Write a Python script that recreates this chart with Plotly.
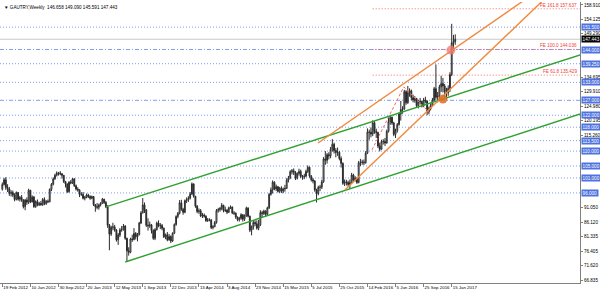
import pandas as pd
import plotly.graph_objects as go

# ---------------- data ----------------
first_open = 97.2
close = [
98.8,100.4,97.8,97.3,95.8,96.1,95.3,93.8,96.1,93.9,94.5,93.6,91.4,93.6,92.9,96.9,93.0,94.6,91.4,93.1,
92.0,92.5,92.0,93.8,92.4,93.2,93.0,97.2,98.9,100.7,101.9,102.7,102.7,102.4,101.9,99.8,99.0,96.4,99.6,99.3,
100.7,98.4,97.3,97.0,95.5,95.5,94.2,94.5,95.3,94.8,94.2,94.8,92.1,91.4,91.2,92.0,92.5,93.9,92.8,91.4,
85.2,82.2,84.5,84.6,83.6,80.3,81.9,83.6,83.7,84.9,80.8,76.6,76.1,80.6,80.4,82.4,81.3,82.0,85.9,89.3,
92.0,90.3,85.2,85.0,85.3,83.4,80.8,83.7,85.9,85.0,85.1,84.2,81.3,82.0,80.3,81.4,79.9,82.5,85.4,88.1,
89.2,92.7,90.5,89.5,93.4,93.7,94.2,95.6,99.0,94.9,91.6,89.8,90.0,88.3,88.6,88.2,86.7,87.0,87.0,84.4,
84.7,86.1,90.1,90.4,90.8,91.9,90.1,90.2,89.5,91.0,91.3,89.3,89.2,87.9,87.0,87.5,88.7,87.2,88.3,90.9,
88.2,83.5,84.6,86.1,85.7,84.2,85.3,89.4,89.1,89.9,88.8,91.0,95.5,97.0,99.6,97.3,98.1,96.5,97.6,96.6,
97.3,97.5,100.3,101.1,103.1,103.4,102.8,100.9,102.5,103.2,101.5,101.4,101.6,103.2,104.6,101.6,100.4,100.0,97.0,95.8,
97.9,97.9,99.7,107.4,106.9,108.8,108.4,110.6,112.3,110.2,109.5,109.6,107.5,105.9,99.2,99.7,99.5,98.8,99.5,102.0,
100.3,100.9,99.5,106.1,106.2,106.3,106.1,109.3,116.4,116.3,115.7,119.5,116.6,116.2,111.7,110.6,113.2,113.2,112.7,116.6,
119.9,121.3,119.4,115.6,116.9,118.9,122.4,123.9,124.1,129.9,126.2,129.5,130.2,127.9,127.1,127.6,125.2,126.5,126.6,125.1,
127.1,126.8,123.1,124.2,125.3,127.1,130.9,128.0,128.5,131.5,132.6,131.8,130.0,129.5,131.0,135.6,146.2,146.658,147.443]
high = [
99.5,101.0,101.3,98.9,98.0,96.9,96.8,95.9,96.5,96.3,95.0,95.3,93.9,94.0,94.5,97.4,97.0,95.2,95.0,93.5,
93.8,93.0,93.3,94.3,94.5,93.6,93.8,97.5,99.3,101.2,102.4,103.2,103.0,103.3,102.6,102.0,100.0,99.2,99.9,100.3,
101.0,100.9,98.8,97.9,97.2,96.2,96.3,95.0,95.8,95.7,95.2,95.1,94.9,92.3,92.6,92.4,92.9,94.3,94.0,93.3,
91.9,85.6,85.0,86.0,85.3,83.9,82.6,84.2,84.9,85.6,85.2,81.0,77.8,81.0,82.0,84.2,82.9,82.6,86.3,89.9,
94.3,92.8,90.6,87.5,86.4,85.6,83.8,84.2,86.4,86.8,85.9,85.6,84.4,82.4,82.9,82.3,81.8,82.8,85.8,88.5,
89.6,93.6,93.7,91.0,93.8,94.5,94.9,96.3,99.5,99.2,95.0,91.9,90.8,90.6,89.3,89.1,88.5,87.6,87.5,87.2,
85.2,86.6,90.6,91.0,91.3,92.6,92.0,91.4,90.6,91.4,91.8,91.4,89.9,89.5,88.1,88.0,89.2,88.9,88.8,91.4,
91.2,88.4,85.1,86.7,86.8,86.8,87.0,90.2,90.0,90.4,90.2,91.4,96.0,97.8,100.2,99.9,98.8,98.3,98.0,98.2,
97.8,98.7,100.9,101.7,103.6,104.0,104.2,103.3,102.9,104.1,103.8,102.0,102.4,103.8,105.2,104.8,102.0,101.0,100.3,97.4,
98.4,98.7,100.4,108.0,110.0,109.4,109.6,111.4,114.0,112.8,111.0,111.2,110.0,108.2,106.2,100.5,100.4,100.1,100.5,102.7,
102.4,101.6,101.2,106.7,107.4,107.1,107.2,110.0,117.6,117.2,117.9,120.3,120.0,117.5,116.5,112.8,113.8,114.0,114.4,117.2,
121.2,121.9,121.6,119.8,117.5,119.4,123.0,126.8,125.0,130.5,130.4,131.8,131.0,130.6,128.9,128.4,127.8,127.2,127.8,126.9,
127.8,128.2,126.9,124.9,125.9,127.8,131.5,139.0,129.8,132.2,135.2,134.5,132.5,131.2,132.0,136.4,152.6,148.9,149.09]
low = [
96.8,98.5,97.0,96.3,95.0,94.8,94.6,93.2,93.5,93.4,93.1,93.0,90.8,90.2,92.0,92.3,92.6,92.8,91.0,91.0,
91.5,91.6,91.7,91.7,91.9,92.0,92.6,92.9,96.6,98.5,100.4,101.5,101.8,101.9,100.8,99.3,97.8,96.0,96.1,98.9,
99.0,98.0,96.8,96.4,94.6,95.0,93.8,93.5,94.2,94.3,93.7,93.9,91.6,89.7,90.5,90.4,91.5,92.3,92.3,90.9,
84.3,76.8,81.6,83.5,83.0,79.7,78.6,81.2,83.0,83.4,80.3,73.2,75.0,75.8,79.6,80.1,80.4,79.8,81.8,85.6,
89.1,89.3,84.6,83.4,84.3,82.4,80.3,80.2,83.4,84.5,83.9,83.5,80.9,80.5,79.8,80.0,79.2,79.6,82.2,85.0,
87.5,88.8,90.0,88.7,89.2,92.6,93.0,93.8,95.4,94.4,91.0,89.2,89.0,87.9,87.6,87.7,86.3,86.3,86.5,83.9,
83.8,84.5,85.7,89.4,89.7,90.2,89.5,89.6,88.9,89.3,90.6,88.9,88.6,87.3,86.5,86.4,87.0,86.4,86.6,88.0,
87.8,82.9,81.8,83.7,84.9,83.7,83.5,84.9,87.9,88.6,88.0,88.5,90.6,95.1,95.8,96.9,96.6,96.1,96.0,96.0,
95.9,96.4,97.3,99.5,100.6,102.2,102.0,100.3,100.5,101.8,101.0,100.4,100.6,101.2,102.7,101.1,99.8,99.2,96.4,92.8,
95.2,96.6,97.3,99.4,105.4,105.8,107.2,107.6,109.8,109.2,107.9,108.4,106.9,104.5,98.7,98.3,98.5,98.0,97.4,99.0,
99.6,99.8,99.0,99.2,105.0,105.4,105.3,105.8,109.0,113.8,114.6,115.0,115.8,114.4,111.0,109.9,110.5,112.2,111.7,112.5,
116.2,118.8,118.8,115.0,114.4,116.2,118.5,120.2,122.5,123.8,125.5,125.8,128.2,127.0,126.3,126.2,124.6,124.3,125.6,124.6,
124.7,126.0,122.0,122.3,123.6,124.9,126.8,127.2,126.3,127.5,129.8,129.6,128.0,127.2,128.5,129.8,135.1,143.6,145.591]
last_bar_date = "2017-01-29"

y_tick_vals = [158.910, 154.125, 149.290, 134.695, 129.910, 124.980, 120.195, 115.260,
               91.050, 86.120, 81.335, 76.405, 71.620, 66.835]
x_tick_dates = ["2012-02-19", "2012-06-10", "2012-09-30", "2013-01-20", "2013-05-12", "2013-09-01",
                "2013-12-22", "2014-04-13", "2014-08-03", "2014-11-23", "2015-03-15", "2015-07-05",
                "2015-10-25", "2016-02-14", "2016-06-05", "2016-09-25", "2017-01-15"]
x_tick_text = ["19 Feb 2012", "10 Jun 2012", "30 Sep 2012", "20 Jan 2013", "12 May 2013", "1 Sep 2013",
               "22 Dec 2013", "13 Apr 2014", "3 Aug 2014", "23 Nov 2014", "15 Mar 2015", "5 Jul 2015",
               "25 Oct 2015", "14 Feb 2016", "5 Jun 2016", "25 Sep 2016", "15 Jan 2017"]

blue_levels = [151.5, 144.0, 139.25, 133.0, 127.0, 122.0, 118.0, 113.5, 110.0, 105.0, 101.0, 96.0]
blue_styles = ["dot", "dashdot", "dot", "dot", "dashdot", "dot", "dot", "dot", "dot", "dot", "dot", "dot"]
fe_ratios = ["161.8", "100.0", "61.8"]
fe_levels = [157.637, 144.036, 135.429]
fe_start = "2016-03-06"
current_price = 147.443
title_text = "GAUTRY,Weekly  146.658 149.090 145.591 147.443"

# trend lines (start / far end)
green_upper_x = ["2013-04-07", "2018-08-29"]; green_upper_y = [91.3, 144.31]
green_lower_x = ["2013-06-23", "2018-08-29"]; green_lower_y = [72.87, 124.56]
orange_upper_x = ["2015-08-01", "2018-08-29"]; orange_upper_y = [112.7, 178.06]
orange_lower_x = ["2015-11-16", "2018-08-29"]; orange_lower_y = [96.98, 178.66]
fe_path_x = ["2016-03-03", "2016-07-08", "2016-10-20"]; fe_path_y = [110.4, 131.5, 122.8]
dot_orange = ("2016-12-11", 127.4)
dot_pink = ("2017-01-12", 143.8)

x_range = ["2012-02-09 19:00", "2018-06-10 14:00"]
y_range = [65.84, 159.91]

# ---------------- figure ----------------
dates = pd.date_range(end=last_bar_date, periods=len(close), freq="7D")
opens = [first_open] + close[:-1]

FONT = "Liberation Sans"
DOTS = {"dot": "1px,2px", "dashdot": "4px,2px,1px,2px"}
fig = go.Figure()

shapes = []
for lv, st in zip(blue_levels, blue_styles):
    shapes.append(dict(type="line", xref="paper", yref="y", x0=0, x1=1, y0=lv, y1=lv,
                       line=dict(color="#7F9EF2", width=1, dash=DOTS[st]), layer="below"))
shapes.append(dict(type="line", xref="paper", yref="y", x0=0, x1=1, y0=current_price, y1=current_price,
                   line=dict(color="#C8C8C8", width=1), layer="below"))
for lv in fe_levels:
    shapes.append(dict(type="line", xref="x", yref="y", x0=fe_start, x1=x_range[1], y0=lv, y1=lv,
                       line=dict(color="#F46A6A", width=1, dash="1px,2px"), layer="below"))

fig.add_trace(go.Scatter(x=fe_path_x, y=fe_path_y, mode="lines",
                         line=dict(color="#F46A6A", width=1, dash="3px,2px"), hoverinfo="skip"))

fig.add_trace(go.Candlestick(
    x=dates, open=opens, high=high, low=low, close=close,
    increasing=dict(line=dict(color="#2A2A2A", width=1), fillcolor="#FFFFFF"),
    decreasing=dict(line=dict(color="#2A2A2A", width=1), fillcolor="#2A2A2A"),
    whiskerwidth=0, hoverinfo="skip"))

for xs, ys, col in [(green_upper_x, green_upper_y, "#30A030"), (green_lower_x, green_lower_y, "#30A030"),
                    (orange_upper_x, orange_upper_y, "#EE8A3E"), (orange_lower_x, orange_lower_y, "#EE8A3E")]:
    fig.add_trace(go.Scatter(x=xs, y=ys, mode="lines", line=dict(color=col, width=1.4), hoverinfo="skip"))

fig.add_trace(go.Scatter(x=[dot_orange[0]], y=[dot_orange[1]], mode="markers",
                         marker=dict(size=9, color="rgba(224,110,30,0.85)"), hoverinfo="skip"))
fig.add_trace(go.Scatter(x=[dot_pink[0]], y=[dot_pink[1]], mode="markers",
                         marker=dict(size=9, color="rgba(240,120,110,0.75)"), hoverinfo="skip"))

ann = []
for lv in blue_levels:
    ann.append(dict(xref="paper", yref="y", x=1, y=lv, xanchor="left", yanchor="middle",
                    text="%.3f" % lv, showarrow=False, xshift=1, bgcolor="#4E73E0",
                    font=dict(family=FONT, size=4.6, color="white"), borderpad=0.6))
ann.append(dict(xref="paper", yref="y", x=1, y=current_price, xanchor="left", yanchor="middle",
                text="%.3f" % current_price, showarrow=False, xshift=1, bgcolor="#000000",
                font=dict(family=FONT, size=4.6, color="white"), borderpad=0.6))
for r, lv in zip(fe_ratios, fe_levels):
    ann.append(dict(xref="paper", yref="y", x=1, y=lv, xanchor="right", yanchor="bottom",
                    text="FE %s %.3f" % (r, lv), showarrow=False, xshift=-1, yshift=-1,
                    font=dict(family=FONT, size=4.6, color="#F03C3C")))
ann.append(dict(xref="paper", yref="paper", x=0, y=1, xanchor="left", yanchor="top",
                text="▼ " + title_text, showarrow=False, xshift=2, yshift=-1,
                font=dict(family=FONT, size=4.6, color="#000000")))

fig.update_layout(
    width=600, height=292, autosize=False,
    margin=dict(l=0, r=20, t=2, b=9, pad=0),
    paper_bgcolor="white", plot_bgcolor="white",
    showlegend=False, shapes=shapes, annotations=ann,
    xaxis=dict(type="date", range=x_range, rangeslider=dict(visible=False),
               tickvals=x_tick_dates, ticktext=x_tick_text, ticks="outside", ticklen=3,
               tickangle=0, tickcolor="#808080", ticklabelposition="outside right",
               tickfont=dict(family=FONT, size=4.4, color="#000"),
               showline=True, linecolor="#808080", linewidth=1, showgrid=False, zeroline=False),
    yaxis=dict(range=y_range, side="right", tickvals=y_tick_vals,
               ticktext=["%.3f" % v for v in y_tick_vals], ticks="outside", ticklen=2,
               tickcolor="#808080", tickfont=dict(family=FONT, size=4.6, color="#000"),
               showline=True, linecolor="#808080", linewidth=1, showgrid=False, zeroline=False),
)

fig.write_html("out.html")
